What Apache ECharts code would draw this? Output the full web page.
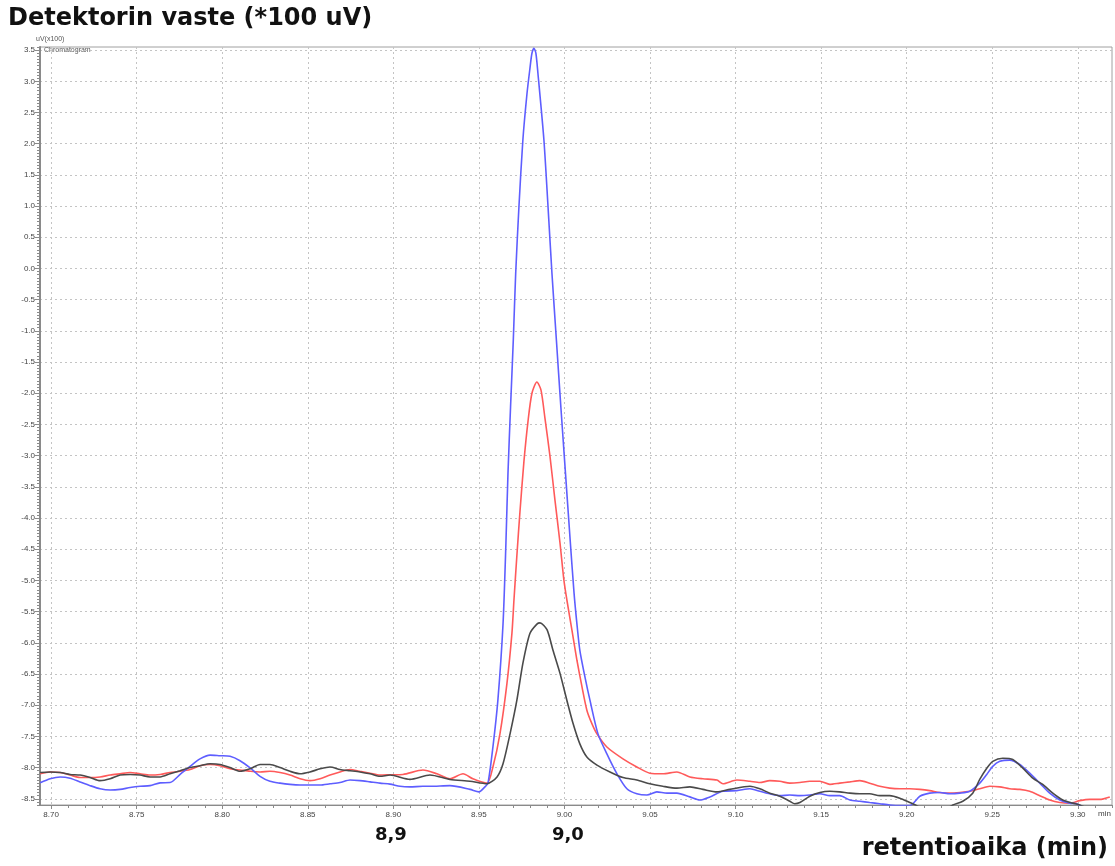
<!DOCTYPE html>
<html>
<head>
<meta charset="utf-8">
<title>Detektorin vaste</title>
<script src="https://cdn.jsdelivr.net/npm/echarts@6/dist/echarts.min.js"></script>
<style>
  html, body { margin: 0; padding: 0; background: #fff; }
  #chart { width: 1115px; height: 866px; }
</style>
</head>
<body>
<div id="chart"></div>
<script>
// Retention time (min) and detector response (x100 uV) for the three injections
const blueTrace = [
  [8.6936,-8.245],[8.6994,-8.18],[8.7053,-8.15],[8.7111,-8.17],[8.7169,-8.23],[8.7228,-8.29],[8.7286,-8.34],
  [8.7345,-8.36],[8.7403,-8.35],[8.7462,-8.32],[8.7520,-8.30],[8.7578,-8.29],[8.7637,-8.245],[8.7695,-8.24],
  [8.7754,-8.11],[8.7812,-7.98],[8.7870,-7.86],[8.7929,-7.80],[8.7987,-7.81],[8.8046,-7.82],[8.8104,-7.89],
  [8.8163,-8.005],[8.8221,-8.14],[8.8279,-8.22],[8.8338,-8.25],[8.8396,-8.27],[8.8455,-8.28],[8.8513,-8.28],
  [8.8572,-8.28],[8.8630,-8.26],[8.8688,-8.24],[8.8747,-8.20],[8.8805,-8.21],[8.8864,-8.23],[8.8922,-8.25],
  [8.8981,-8.265],[8.9039,-8.30],[8.9097,-8.31],[8.9173,-8.30],[8.9214,-8.30],[8.9331,-8.29],[8.9448,-8.35],
  [8.9500,-8.39],[8.9535,-8.31],[8.9553,-8.25],[8.9582,-7.67],[8.9611,-6.92],[8.9641,-5.70],[8.9658,-4.40],
  [8.9670,-3.28],[8.9685,-2.22],[8.9701,-1.15],[8.9715,-0.08],[8.9734,0.99],[8.9757,2.06],[8.9781,2.80],
  [8.9798,3.20],[8.9810,3.45],[8.9822,3.53],[8.9833,3.45],[8.9845,3.13],[8.9880,2.06],[8.9904,0.99],
  [8.9927,-0.08],[8.9953,-1.15],[8.9979,-2.22],[9.0006,-3.28],[9.0032,-4.30],[9.0056,-5.20],[9.0073,-5.70],
  [9.0090,-6.12],[9.0120,-6.55],[9.0149,-6.92],[9.0196,-7.46],[9.0248,-7.78],[9.0307,-8.10],[9.0365,-8.34],
  [9.0423,-8.42],[9.0482,-8.44],[9.0540,-8.39],[9.0599,-8.41],[9.0657,-8.41],[9.0733,-8.47],[9.0791,-8.52],
  [9.0850,-8.47],[9.0926,-8.38],[9.1008,-8.37],[9.1084,-8.34],[9.1142,-8.38],[9.1200,-8.42],[9.1259,-8.45],
  [9.1317,-8.44],[9.1376,-8.45],[9.1434,-8.44],[9.1493,-8.42],[9.1551,-8.45],[9.1609,-8.45],[9.1668,-8.52],
  [9.1726,-8.54],[9.1784,-8.56],[9.1843,-8.58],[9.1901,-8.60],[9.1960,-8.61],[9.2018,-8.61],[9.2077,-8.46],
  [9.2135,-8.41],[9.2194,-8.40],[9.2252,-8.42],[9.2311,-8.41],[9.2369,-8.38],[9.2427,-8.25],[9.2468,-8.11],
  [9.2503,-7.98],[9.2544,-7.90],[9.2602,-7.88],[9.2661,-7.95],[9.2719,-8.09],[9.2778,-8.25],[9.2836,-8.41],
  [9.2895,-8.52],[9.2953,-8.57],[9.2994,-8.58],[9.3030,-8.65]
];

const redTrace = [
  [8.6936,-8.10],[8.6994,-8.07],[8.7053,-8.08],[8.7111,-8.12],[8.7169,-8.16],[8.7228,-8.16],[8.7286,-8.15],
  [8.7345,-8.12],[8.7403,-8.10],[8.7462,-8.08],[8.7520,-8.10],[8.7578,-8.12],[8.7637,-8.11],[8.7695,-8.08],
  [8.7754,-8.06],[8.7812,-8.03],[8.7870,-7.97],[8.7929,-7.95],[8.7987,-7.97],[8.8046,-8.02],[8.8104,-8.04],
  [8.8163,-8.06],[8.8221,-8.07],[8.8279,-8.06],[8.8338,-8.08],[8.8396,-8.12],[8.8455,-8.18],[8.8513,-8.21],
  [8.8572,-8.18],[8.8630,-8.12],[8.8688,-8.07],[8.8747,-8.03],[8.8805,-8.06],[8.8864,-8.09],[8.8922,-8.12],
  [8.8981,-8.115],[8.9056,-8.11],[8.9173,-8.04],[8.9255,-8.10],[8.9331,-8.18],[8.9407,-8.10],[8.9465,-8.18],
  [8.9547,-8.25],[8.9582,-7.99],[8.9623,-7.46],[8.9664,-6.65],[8.9693,-5.85],[8.9705,-5.31],[8.9722,-4.60],
  [8.9740,-3.90],[8.9763,-3.10],[8.9787,-2.45],[8.9810,-2.00],[8.9839,-1.82],[8.9863,-1.95],[8.9886,-2.40],
  [8.9915,-3.00],[8.9944,-3.70],[8.9974,-4.40],[8.9997,-5.00],[9.0014,-5.31],[9.0044,-5.80],[9.0073,-6.28],
  [9.0102,-6.70],[9.0131,-7.08],[9.0161,-7.30],[9.0190,-7.46],[9.0248,-7.67],[9.0342,-7.86],[9.0423,-7.99],
  [9.0499,-8.09],[9.0575,-8.10],[9.0657,-8.07],[9.0733,-8.15],[9.0809,-8.18],[9.0891,-8.20],[9.0926,-8.26],
  [9.1008,-8.20],[9.1084,-8.22],[9.1142,-8.24],[9.1200,-8.21],[9.1259,-8.22],[9.1317,-8.25],[9.1376,-8.24],
  [9.1434,-8.22],[9.1493,-8.22],[9.1551,-8.27],[9.1609,-8.25],[9.1668,-8.23],[9.1726,-8.21],[9.1784,-8.25],
  [9.1843,-8.30],[9.1901,-8.33],[9.1960,-8.34],[9.2018,-8.34],[9.2077,-8.35],[9.2135,-8.37],[9.2194,-8.40],
  [9.2252,-8.41],[9.2311,-8.40],[9.2369,-8.38],[9.2427,-8.34],[9.2486,-8.30],[9.2544,-8.31],[9.2602,-8.34],
  [9.2661,-8.35],[9.2719,-8.38],[9.2778,-8.45],[9.2836,-8.52],[9.2895,-8.56],[9.2953,-8.57],[9.3012,-8.53],
  [9.3070,-8.51],[9.3128,-8.51],[9.3187,-8.47]
];

const blackTrace = [
  [8.6936,-8.08],[8.6994,-8.07],[8.7053,-8.08],[8.7111,-8.11],[8.7169,-8.12],[8.7228,-8.16],[8.7286,-8.21],
  [8.7345,-8.18],[8.7403,-8.12],[8.7462,-8.11],[8.7520,-8.12],[8.7578,-8.15],[8.7637,-8.15],[8.7695,-8.10],
  [8.7754,-8.05],[8.7812,-8.00],[8.7870,-7.97],[8.7929,-7.94],[8.7987,-7.95],[8.8046,-8.00],[8.8104,-8.06],
  [8.8163,-8.02],[8.8221,-7.95],[8.8279,-7.95],[8.8338,-8.00],[8.8396,-8.06],[8.8455,-8.10],[8.8513,-8.07],
  [8.8572,-8.02],[8.8630,-7.99],[8.8688,-8.03],[8.8747,-8.05],[8.8805,-8.07],[8.8864,-8.10],[8.8922,-8.14],
  [8.8981,-8.12],[8.9097,-8.19],[8.9214,-8.12],[8.9331,-8.19],[8.9448,-8.22],[8.9547,-8.26],[8.9606,-8.15],
  [8.9641,-7.94],[8.9682,-7.46],[8.9722,-6.92],[8.9757,-6.33],[8.9798,-5.85],[8.9839,-5.70],[8.9857,-5.68],
  [8.9898,-5.79],[8.9933,-6.12],[8.9974,-6.49],[9.0014,-6.92],[9.0050,-7.29],[9.0090,-7.62],[9.0131,-7.83],
  [9.0190,-7.96],[9.0266,-8.07],[9.0342,-8.16],[9.0423,-8.20],[9.0499,-8.26],[9.0575,-8.30],[9.0657,-8.33],
  [9.0733,-8.31],[9.0809,-8.35],[9.0891,-8.39],[9.0967,-8.35],[9.1084,-8.30],[9.1142,-8.34],[9.1200,-8.41],
  [9.1259,-8.46],[9.1317,-8.54],[9.1346,-8.58],[9.1376,-8.56],[9.1434,-8.46],[9.1493,-8.40],[9.1551,-8.38],
  [9.1609,-8.39],[9.1668,-8.41],[9.1726,-8.42],[9.1784,-8.42],[9.1843,-8.45],[9.1901,-8.45],[9.1960,-8.49],
  [9.2018,-8.56],[9.2059,-8.61],[9.2100,-8.68],[9.2200,-8.70],[9.2270,-8.60],[9.2328,-8.54],[9.2386,-8.41],
  [9.2427,-8.19],[9.2468,-8.01],[9.2503,-7.90],[9.2562,-7.85],[9.2620,-7.87],[9.2679,-8.01],[9.2737,-8.17],
  [9.2795,-8.27],[9.2854,-8.41],[9.2912,-8.52],[9.2971,-8.57],[9.3012,-8.60],[9.3060,-8.66]
];

// Axis tick labels
const xTickValues = [8.70, 8.75, 8.80, 8.85, 8.90, 8.95, 9.00, 9.05, 9.10, 9.15, 9.20, 9.25, 9.30];
const yTickValues = [3.5, 3.0, 2.5, 2.0, 1.5, 1.0, 0.5, 0.0, -0.5, -1.0, -1.5, -2.0, -2.5, -3.0, -3.5,
  -4.0, -4.5, -5.0, -5.5, -6.0, -6.5, -7.0, -7.5, -8.0, -8.5];

// Minor tick positions (every 0.01 min on x, every 0.05 on y)
const xMinor = [];
for (let i = 870; i <= 932; i++) xMinor.push(i / 100);
const yMinor = [];
for (let i = -172; i <= 71; i++) yMinor.push(i / 20);

const X_MIN = 8.6935, X_MAX = 9.32, Y_MIN = -8.6, Y_MAX = 3.55;

const chart = echarts.init(document.getElementById('chart'), null, { renderer: 'canvas' });

const axisGrey = '#8a8a8a';
const gridDot = { color: '#c4c4c4', width: 1, type: [2, 3] };
const tickFont = { fontFamily: 'Liberation Sans', fontSize: 8, color: '#444' };
const boldFont = '"DejaVu Sans"';

chart.setOption({
  backgroundColor: '#ffffff',
  animation: false,
  grid: {
    left: 40, top: 47, right: 3, bottom: 61,
    show: true, borderColor: '#a0a0a0', borderWidth: 1
  },
  xAxis: [{
    type: 'value', min: X_MIN, max: X_MAX,
    axisLine: { show: true, onZero: false, lineStyle: { color: axisGrey, width: 1 } },
    axisTick: { show: true, customValues: xTickValues, length: 4, lineStyle: { color: axisGrey } },
    axisLabel: {
      customValues: xTickValues, margin: 6, ...tickFont,
      formatter: v => v.toFixed(2)
    },
    splitLine: { show: true, lineStyle: gridDot }
  }, {
    type: 'value', min: X_MIN, max: X_MAX, position: 'bottom', gridIndex: 0,
    axisLine: { show: false, onZero: false },
    axisTick: { show: true, customValues: xMinor, length: 3, lineStyle: { color: axisGrey } },
    axisLabel: { show: false },
    splitLine: { show: false }
  }],
  yAxis: [{
    type: 'value', min: Y_MIN, max: Y_MAX,
    axisLine: { show: true, onZero: false, lineStyle: { color: axisGrey, width: 2 } },
    axisTick: { show: true, customValues: yTickValues, length: 5, lineStyle: { color: axisGrey } },
    axisLabel: {
      customValues: yTickValues, margin: 5, ...tickFont,
      formatter: v => v.toFixed(1)
    },
    splitLine: { show: true, lineStyle: gridDot }
  }, {
    type: 'value', min: Y_MIN, max: Y_MAX, position: 'left', gridIndex: 0,
    axisLine: { show: false, onZero: false },
    axisTick: { show: true, customValues: yMinor, length: 3, lineStyle: { color: axisGrey } },
    axisLabel: { show: false },
    splitLine: { show: false }
  }],
  series: [
    {
      name: 'red', type: 'line', data: redTrace, showSymbol: false, smooth: 0.25,
      lineStyle: { color: '#ff5a5a', width: 1.6 }, z: 3
    },
    {
      name: 'blue', type: 'line', data: blueTrace, showSymbol: false, smooth: 0.25,
      lineStyle: { color: '#5e5eff', width: 1.6 }, z: 4
    },
    {
      name: 'black', type: 'line', data: blackTrace, showSymbol: false, smooth: 0.25,
      lineStyle: { color: '#4a4a4a', width: 1.6 }, z: 5
    }
  ],
  graphic: [
    {
      type: 'text', left: 8, top: 7,
      style: { text: 'Detektorin vaste (*100 uV)', font: 'bold 24px ' + boldFont, fill: '#111' }
    },
    {
      type: 'text', left: 36, top: 36,
      style: { text: 'uV(x100)', font: '7px "Liberation Sans"', fill: '#555' }
    },
    {
      type: 'text', left: 44, top: 47,
      style: { text: 'Chromatogram', font: '7px "Liberation Sans"', fill: '#555' }
    },
    {
      type: 'text', left: 1098, top: 810,
      style: { text: 'min', font: '8px "Liberation Sans"', fill: '#444' }
    },
    {
      type: 'text', left: 375, top: 826,
      style: { text: '8,9', font: 'bold 18px ' + boldFont, fill: '#111' }
    },
    {
      type: 'text', left: 552, top: 826,
      style: { text: '9,0', font: 'bold 18px ' + boldFont, fill: '#111' }
    },
    {
      type: 'text', right: 7, top: 837,
      style: { text: 'retentioaika (min)', font: 'bold 24px ' + boldFont, fill: '#111' }
    }
  ]
});
</script>
</body>
</html>
